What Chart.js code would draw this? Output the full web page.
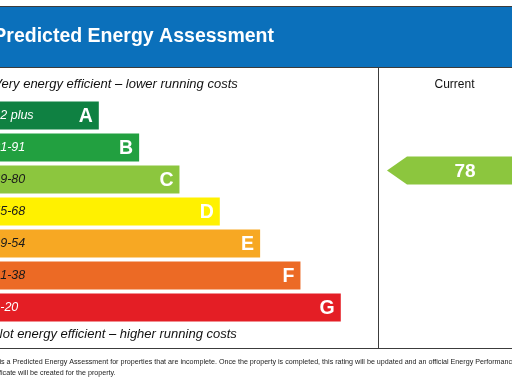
<!DOCTYPE html>
<html>
<head>
<meta charset="utf-8">
<script src="https://cdn.jsdelivr.net/npm/chart.js@4"></script>
<style>
  html, body { margin: 0; padding: 0; background: #fff; overflow: hidden; }
  canvas { display: block; }
</style>
</head>
<body>
<canvas id="epcChart" width="512" height="384"></canvas>
<script>
const bands = ["A", "B", "C", "D", "E", "F", "G"];
const bandRanges = ["92 plus", "81-91", "69-80", "55-68", "39-54", "21-38", "1-20"];
const bandMin = [92, 81, 69, 55, 39, 21, 1];
const bandMax = [100, 91, 80, 68, 54, 38, 20];
const bandLengths = [3, 4, 5, 6, 7, 8, 9];
const bandColors = ["#0f8142", "#22a040", "#8cc63e", "#fff100", "#f7a823", "#ec6a25", "#e41e25"];
const rangeTextColors = ["#fff", "#fff", "#1a1a1a", "#1a1a1a", "#1a1a1a", "#1a1a1a", "#fff"];
const currentRating = 78;

const title = "Predicted Energy Assessment";
const topNote = "Very energy efficient \u2013 lower running costs";
const bottomNote = "Not energy efficient \u2013 higher running costs";
const footer = [
  "This is a Predicted Energy Assessment for properties that are incomplete. Once the property is completed, this rating will be updated and an official Energy Performance",
  "Certificate will be created for the property.",
];

const FONT = "'Liberation Sans', Arial, sans-serif";
const LEFT = -6.7; // original graphic starts just off the crop
const unit = 40.33;

// Header, frame lines and notes
const framePlugin = {
  id: "frame",
  beforeDraw(chart) {
    const c = chart.ctx;
    c.save();
    c.fillStyle = "#fff";
    c.fillRect(0, 0, 512, 384);

    c.fillStyle = "#0b70bb";
    c.fillRect(0, 6, 512, 61);
    c.fillStyle = "#fff";
    c.font = "bold 19.5px " + FONT;
    c.textBaseline = "middle";
    c.textAlign = "left";
    c.fillText(title, LEFT, 37);

    c.strokeStyle = "#3c3c3c";
    c.lineWidth = 1;
    c.beginPath();
    c.moveTo(0, 6.5); c.lineTo(512, 6.5);
    c.moveTo(0, 67.5); c.lineTo(512, 67.5);
    c.moveTo(378.5, 67); c.lineTo(378.5, 348);
    c.moveTo(0, 348.5); c.lineTo(512, 348.5);
    c.stroke();

    c.fillStyle = "#111";
    c.font = "italic 13px " + FONT;
    c.fillText(topNote, LEFT, 84);
    c.fillText(bottomNote, LEFT, 334);

    c.font = "12px " + FONT;
    c.textAlign = "center";
    c.fillText("Current", 454.5, 85);

    c.textAlign = "left";
    c.font = "7.15px " + FONT;
    c.fillStyle = "#222";
    const fx = 1 - c.measureText("This i").width;
    c.fillText(footer[0], fx, 362);
    c.fillText(footer[1], fx, 373);
    c.restore();
  },
  afterDatasetsDraw(chart) {
    const c = chart.ctx;
    const meta = chart.getDatasetMeta(0);
    c.save();
    c.textBaseline = "middle";
    meta.data.forEach((bar, i) => {
      c.fillStyle = rangeTextColors[i];
      c.font = "italic 12.5px " + FONT;
      c.textAlign = "left";
      c.fillText(bandRanges[i], LEFT, bar.y);
      c.fillStyle = "#fff";
      c.font = "bold 19.5px " + FONT;
      c.textAlign = "right";
      c.fillText(bands[i], bar.x - 6, bar.y + 1);
    });

    // current rating arrow
    const idx = bands.findIndex((b, i) => currentRating >= bandMin[i] && currentRating <= bandMax[i]);
    const bar = meta.data[idx];
    const h = bar.height;
    const frac = (bandMax[idx] - currentRating) / (bandMax[idx] - bandMin[idx]);
    const cy = bar.y - h / 2 + frac * h;
    c.fillStyle = bandColors[idx];
    c.beginPath();
    c.moveTo(387, cy);
    c.lineTo(407, cy - h / 2);
    c.lineTo(530, cy - h / 2);
    c.lineTo(530, cy + h / 2);
    c.lineTo(407, cy + h / 2);
    c.closePath();
    c.fill();
    c.fillStyle = "#fff";
    c.font = "bold 19px " + FONT;
    c.textAlign = "center";
    c.fillText(String(currentRating), 465, cy + 1);
    c.restore();
  },
};

const ctx = document.getElementById("epcChart").getContext("2d");
const epcChart = new Chart(ctx, {
  type: "bar",
  data: {
    labels: bands,
    datasets: [
      {
        data: bandLengths,
        backgroundColor: bandColors,
        borderWidth: 0,
        barPercentage: 0.875,
        categoryPercentage: 1,
      },
    ],
  },
  options: {
    indexAxis: "y",
    responsive: false,
    animation: false,
    events: [],
    layout: { padding: { top: 99.5, bottom: 60.5, left: 0, right: 0 } },
    plugins: {
      legend: { display: false },
      tooltip: { enabled: false },
    },
    scales: {
      x: { display: false, min: 0.55, max: 0.55 + 512 / unit },
      y: { display: false },
    },
  },
  plugins: [framePlugin],
});
</script>
</body>
</html>
